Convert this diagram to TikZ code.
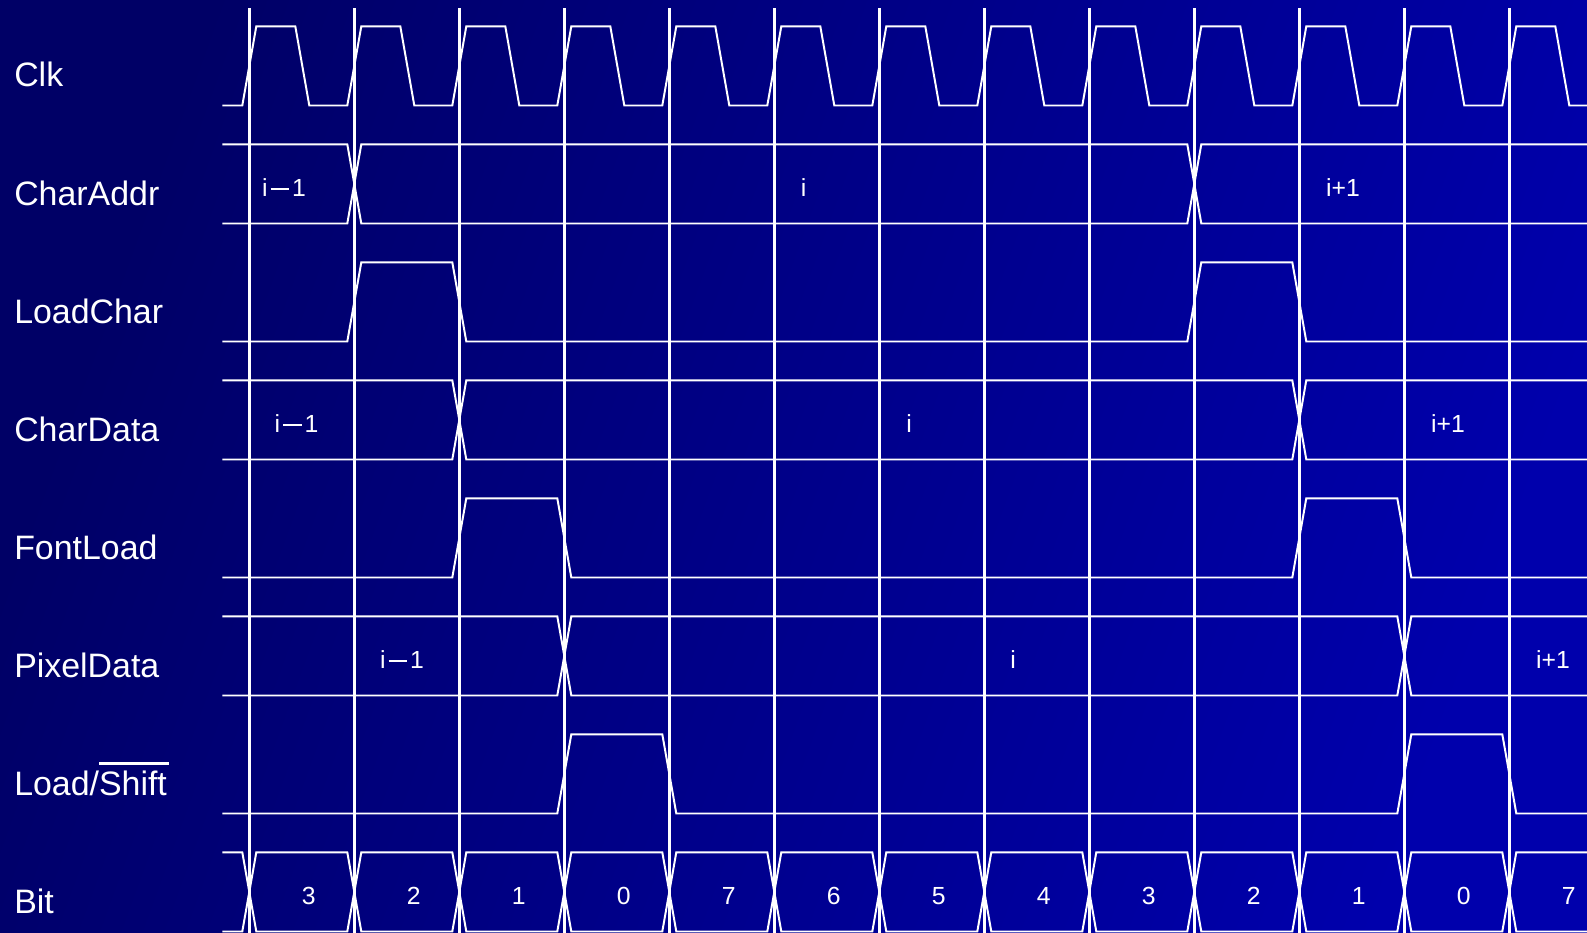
\documentclass[tikz,border=0pt]{standalone}
\usepackage{fontspec}
\setmainfont{Liberation Sans}
\definecolor{bgdark}{RGB}{0,0,102}
\definecolor{bglight}{RGB}{0,0,172}
\newcommand{\prevval}{i\hspace{0.12em}\rule[0.27em]{0.75em}{0.075em}\hspace{0.12em}1}
\newcommand{\barshift}{\rlap{\rule[0.89em]{2.05em}{0.07em}}Shift}
\tikzset{
    wave/.style={draw=white, line width=1.4pt},
    edgeline/.style={draw=white, line width=1.8pt},
    siglabel/.style={anchor=base west, inner sep=0pt, text=white,
                     font=\fontsize{24.1}{29}\selectfont},
    vallabel/.style={anchor=base, inner sep=0pt, text=white,
                     font=\fontsize{17.6}{21}\selectfont},
}

\begin{document}
\begin{tikzpicture}[x=0.025cm, y=-0.025cm]

    % ── BACKGROUND ──
    \useasboundingbox (0,0) rectangle (1587,933);
    \shade[left color=bgdark, right color=bglight, shading angle=70] (0,0) rectangle (1587,933);

    % ── SIGNAL NAMES ──
    \node[siglabel] (clk)      at (14,87)  {Clk};
    \node[siglabel] (charaddr) at (14,205) {CharAddr};
    \node[siglabel] (loadchar) at (14,323) {LoadChar};
    \node[siglabel] (chardata) at (14,441) {CharData};
    \node[siglabel] (fontload) at (14,559) {FontLoad};
    \node[siglabel] (pixdata)  at (14,677) {PixelData};
    \node[siglabel] (ldshift)  at (14,795) {Load/\barshift};
    \node[siglabel] (bit)      at (14,913) {Bit};

    % ── CLOCK EDGES ──
    \foreach \k in {0,...,12}
        \draw[edgeline] (249.3+105*\k,8.3) -- (249.3+105*\k,933);

    % ── CLK ──
    \draw[wave] (222.3,105.5)
        \foreach \k in {0,...,12} {
            -- (242.3+105*\k,105.5) -- (256.3+105*\k,26.3)
            -- (295.3+105*\k,26.3) -- (309.3+105*\k,105.5)
        } -- (1587,105.5);

    % ── BUSES: CharAddr, CharData, PixelData ──
    \foreach \h/\l/\a/\b in {144.3/223.5/354.3/1194.3,
                             380.3/459.5/459.3/1299.3,
                             616.3/695.5/564.3/1404.3} {
        \draw[wave] (222.3,\h) -- (\a-7,\h) -- (\a+7,\l) -- (\b-7,\l) -- (\b+7,\h) -- (1587,\h);
        \draw[wave] (222.3,\l) -- (\a-7,\l) -- (\a+7,\h) -- (\b-7,\h) -- (\b+7,\l) -- (1587,\l);
    }

    \node[vallabel] (addrprev) at (284,196.4)    {\prevval};
    \node[vallabel] (addrcur)  at (803.5,196.4)  {i};
    \node[vallabel] (addrnext) at (1343,196.4)   {i+1};
    \node[vallabel] (dataprev) at (296.5,432.4)  {\prevval};
    \node[vallabel] (datacur)  at (909,432.4)    {i};
    \node[vallabel] (datanext) at (1448,432.4)   {i+1};
    \node[vallabel] (pixprev)  at (402,668.4)    {\prevval};
    \node[vallabel] (pixcur)   at (1013,668.4)   {i};
    \node[vallabel] (pixnext)  at (1553,668.4)   {i+1};

    % ── PULSES: LoadChar, FontLoad, Load/Shift ──
    \foreach \h/\l/\a/\b/\c/\d in {262.3/341.5/354.3/459.3/1194.3/1299.3,
                                   498.3/577.5/459.3/564.3/1299.3/1404.3,
                                   734.3/813.5/564.3/669.3/1404.3/1509.3}
        \draw[wave] (222.3,\l) -- (\a-7,\l) -- (\a+7,\h) -- (\b-7,\h) -- (\b+7,\l)
            -- (\c-7,\l) -- (\c+7,\h) -- (\d-7,\h) -- (\d+7,\l) -- (1587,\l);

    % ── BIT ──
    \draw[wave] (222.3,852.3) -- (242.3,852.3) -- (249.3,891.9) -- (242.3,931.5) -- (222.3,931.5);
    \foreach \k in {0,...,11}
        \draw[wave] (249.3+105*\k,891.9) -- ++(7,-39.6) -- ++(91,0) -- ++(7,39.6)
            -- ++(-7,39.6) -- ++(-91,0) -- cycle;
    \draw[wave] (1587,852.3) -- (1516.3,852.3) -- (1509.3,891.9) -- (1516.3,931.5) -- (1587,931.5);

    \foreach \v [count=\k from 0] in {3,2,1,0,7,6,5,4,3,2,1,0,7}
        \node[vallabel] (bit\k) at (308.7+105*\k,904.5) {\v};

\end{tikzpicture}
\end{document}
